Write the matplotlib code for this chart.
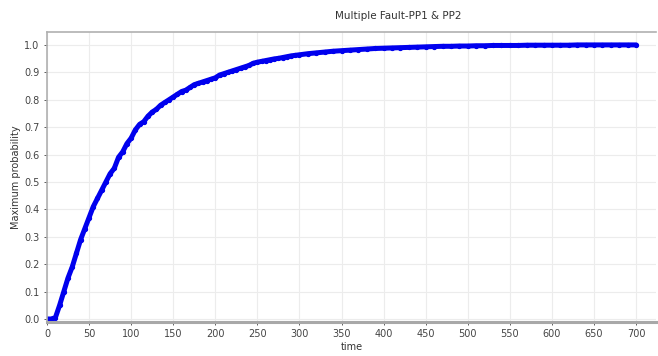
import matplotlib
matplotlib.use("Agg")
import matplotlib.pyplot as plt

time = list(range(0, 300, 5)) + list(range(300, 701, 10))
prob = [
    0.0, 0.0, 0.005, 0.05, 0.10, 0.15, 0.19, 0.24, 0.29, 0.33,
    0.37, 0.41, 0.44, 0.47, 0.50, 0.53, 0.55, 0.59, 0.61, 0.64,
    0.66, 0.69, 0.71, 0.72, 0.74, 0.755, 0.765, 0.78, 0.79, 0.80,
    0.81, 0.82, 0.83, 0.835, 0.845, 0.855, 0.86, 0.865, 0.87, 0.875,
    0.88, 0.89, 0.895, 0.90, 0.905, 0.91, 0.915, 0.92, 0.925, 0.933,
    0.937, 0.94, 0.943, 0.946, 0.949, 0.951, 0.954, 0.957, 0.96, 0.962,
    # 300..700 step 10
    0.964, 0.968, 0.971, 0.974, 0.977, 0.979, 0.981, 0.983, 0.985, 0.987,
    0.988, 0.989, 0.990, 0.991, 0.992, 0.993, 0.994, 0.995, 0.995, 0.996,
    0.996, 0.997, 0.997, 0.998, 0.998, 0.998, 0.998, 0.999, 0.999, 0.999,
    0.999, 0.999, 0.999, 1.0, 1.0, 1.0, 1.0, 1.0, 1.0, 1.0,
    1.0,
]
xticks = list(range(0, 701, 50))
yticks = [i / 10 for i in range(11)]

fig = plt.figure(figsize=(6.58, 3.56), dpi=100)
ax = fig.add_axes([0.0714, 0.0955, 0.926, 0.8145])
ax.plot(time, prob, color="#0000ee", lw=3.6, marker="o", ms=2.8,
        solid_capstyle="round", solid_joinstyle="round")
ax.set_xlim(0, 724)
ax.set_ylim(-0.011, 1.047)
ax.set_xticks(xticks)
ax.set_yticks(yticks)
ax.set_yticklabels([f"{v:.1f}" for v in yticks])
ax.grid(True, color="#ececec", lw=0.8)
ax.set_axisbelow(True)
for s in ["top", "left"]:
    ax.spines[s].set_color("#b0b0b0")
    ax.spines[s].set_linewidth(1.2)
ax.spines["right"].set_visible(False)
ax.spines["bottom"].set_color("#a8a8a8")
ax.spines["bottom"].set_linewidth(2.2)
ax.tick_params(axis="both", labelsize=7, colors="#444444", length=2, width=0.6)
ax.tick_params(axis="x", pad=3)
ax.set_xlabel("time", fontsize=7, color="#333333", labelpad=2)
ax.set_ylabel("Maximum probability", fontsize=7, color="#333333", labelpad=2)
fig.text(0.605, 0.955, "Multiple Fault-PP1 & PP2", fontsize=7.5,
         color="#333333", ha="center", va="center")
fig.savefig("out.png", dpi=100)
